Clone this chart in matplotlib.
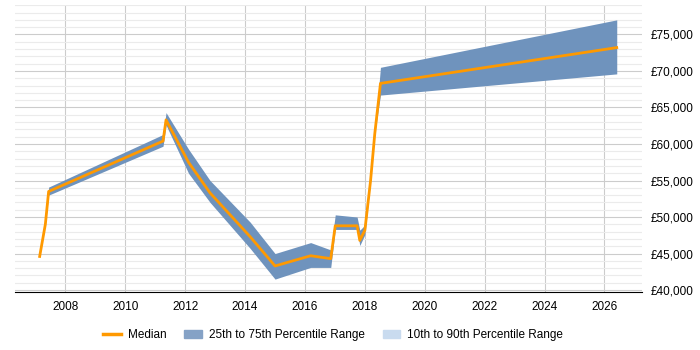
import matplotlib.pyplot as plt
from matplotlib.ticker import FuncFormatter, MultipleLocator
from matplotlib.patches import Patch
from matplotlib.lines import Line2D

plt.rcParams['font.family'] = ['Liberation Sans', 'DejaVu Sans']

# data
years = [2007.14, 2007.33, 2007.44, 2011.26, 2011.36, 2012.11, 2012.83, 2014.17,
         2015.0, 2016.19, 2016.86, 2017.01, 2017.74, 2017.83, 2018.0, 2018.19,
         2018.33, 2018.52, 2026.41]
median = [44600, 49000, 53500, 60400, 63300, 57500, 53300, 47300,
          43300, 44700, 44300, 48800, 48800, 46800, 48200, 55000,
          61400, 68300, 73200]
p25 = [44600, 49000, 53000, 59700, 62600, 56000, 52000, 45700,
       41500, 43100, 43100, 48300, 48300, 46100, 47600, 55000,
       61400, 66700, 69600]
p75 = [44600, 49000, 54100, 61300, 64300, 59300, 55000, 49300,
       45000, 46500, 45500, 50300, 50000, 48200, 48900, 55000,
       61400, 70500, 77000]

fig, ax = plt.subplots(figsize=(7, 3.5), dpi=100)
fig.subplots_adjust(left=0.022, right=0.917, top=0.985, bottom=0.165)

ax.fill_between(years, p25, p75, color='#6f93bd', linewidth=0, zorder=2)
ax.plot(years, median, color='#ff9900', linewidth=2, zorder=3)

ax.set_xlim(2006.33, 2027.25)
ax.set_ylim(39700, 79000)
ax.xaxis.set_major_locator(MultipleLocator(2))
ax.yaxis.set_major_locator(MultipleLocator(5000))
ax.yaxis.set_minor_locator(MultipleLocator(1000))
ax.yaxis.set_major_formatter(FuncFormatter(lambda v, p: f'£{v:,.0f}'))
ax.yaxis.tick_right()

ax.grid(True, which='major', axis='both', color='#cccccc', linewidth=0.8, zorder=0)
ax.grid(True, which='minor', axis='y', color='#ebebeb', linewidth=0.8, zorder=0)
ax.set_axisbelow(True)
for s in ['top', 'left', 'right']:
    ax.spines[s].set_visible(False)
ax.spines['bottom'].set_color('black')
ax.tick_params(axis='x', length=0, labelsize=8.5, pad=6)
ax.tick_params(axis='y', which='both', length=0, labelsize=8.5, pad=6)

handles = [Line2D([], [], color='#ff9900', linewidth=2.5),
           Patch(color='#85a2c6'), Patch(color='#c9dbef')]
labels = ['Median', '25th to 75th Percentile Range', '10th to 90th Percentile Range']
fig.legend(handles, labels, loc='lower center', ncol=3, frameon=False,
           fontsize=8.5, bbox_to_anchor=(0.476, -0.005), handlelength=1.5,
           columnspacing=1.5, handletextpad=0.6)

fig.savefig('out.png')
